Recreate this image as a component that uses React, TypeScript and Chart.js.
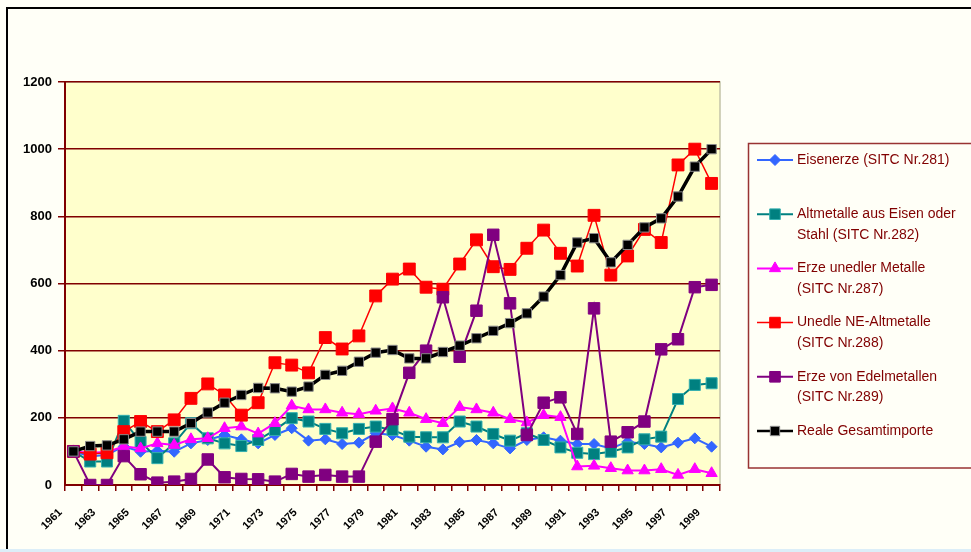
import React, { useEffect, useRef } from 'react';
import { Chart, registerables } from 'chart.js';

Chart.register(...registerables);

const years = [
  '1961', '1962', '1963', '1964', '1965', '1966', '1967', '1968', '1969', '1970',
  '1971', '1972', '1973', '1974', '1975', '1976', '1977', '1978', '1979', '1980',
  '1981', '1982', '1983', '1984', '1985', '1986', '1987', '1988', '1989', '1990',
  '1991', '1992', '1993', '1994', '1995', '1996', '1997', '1998', '1999',
];

const eisenerze = [
  100, 85, 90, 115, 99, 102, 99, 124, 134, 149,
  136, 124, 149, 169, 132, 136, 122, 126, 154, 149,
  132, 114, 106, 128, 134, 124, 109, 134, 142, 132,
  122, 122, 109, 129, 122, 112, 126, 139, 114,
];

const altmetalleEisen = [
  100, 70, 70, 191, 128, 80, 124, 184, 139, 124,
  116, 134, 164, 199, 189, 167, 154, 167, 174, 164,
  144, 142, 142, 189, 174, 152, 132, 154, 134, 112,
  96, 92, 99, 112, 136, 144, 256, 298, 303,
];

const erzeUnedler = [
  100, 96, 98, 115, 109, 124, 119, 136, 139, 169,
  174, 153, 184, 236, 225, 225, 215, 211, 221, 228,
  215, 196, 184, 232, 225, 215, 196, 186, 208, 202,
  55, 57, 50, 43, 43, 47, 30, 47, 35,
];

const unedleNE = [
  100, 92, 96, 159, 189, 159, 194, 258, 301, 268,
  208, 245, 364, 357, 334, 439, 405, 444, 563, 613,
  643, 589, 583, 658, 730, 650, 642, 705, 759, 690,
  652, 803, 625, 682, 761, 722, 953, 1000, 898,
];

const erzeEdel = [
  100, 0, 0, 86, 32, 7, 10, 18, 76, 23,
  18, 17, 10, 33, 25, 30, 25, 25, 129, 196,
  334, 400, 559, 382, 519, 745, 541, 149, 245, 261,
  152, 526, 129, 157, 189, 404, 434, 589, 596,
];

const gesamt = [
  100, 116, 118, 136, 159, 159, 159, 184, 216, 245,
  268, 289, 288, 278, 293, 328, 340, 367, 394, 402,
  377, 377, 396, 415, 437, 459, 482, 511, 561, 625,
  722, 735, 663, 715, 767, 794, 859, 948, 1000,
];

const yTicks = [0, 200, 400, 600, 800, 1000, 1200];
const yTickLabels = ['0', '200', '400', '600', '800', '1000', '1200'];

const seriesNames: string[][] = [
  ['Eisenerze (SITC Nr.281)'],
  ['Altmetalle aus Eisen oder', 'Stahl (SITC Nr.282)'],
  ['Erze unedler Metalle', '(SITC Nr.287)'],
  ['Unedle NE-Altmetalle', '(SITC Nr.288)'],
  ['Erze von Edelmetallen', '(SITC Nr.289)'],
  ['Reale Gesamtimporte'],
];

type Style = {
  line: string;
  fill: string;
  stroke: string;
  shape: 'rect' | 'rectRot' | 'triangle';
  r: number;
  lw: number;
};

const styles: Style[] = [
  { line: '#3366FF', fill: '#3366FF', stroke: '#3366FF', shape: 'rectRot', r: 5.5, lw: 2 },
  { line: '#008080', fill: '#008080', stroke: '#33AFAF', shape: 'rect', r: 7.8, lw: 2 },
  { line: '#FF00FF', fill: '#FF00FF', stroke: '#FF00FF', shape: 'triangle', r: 6.5, lw: 2 },
  { line: '#FF0000', fill: '#FF0000', stroke: '#FF0000', shape: 'rect', r: 8.4, lw: 1.5 },
  { line: '#800080', fill: '#800080', stroke: '#800080', shape: 'rect', r: 8.1, lw: 2 },
  { line: '#000000', fill: '#000000', stroke: '#8A8A8A', shape: 'rect', r: 6.6, lw: 3.5 },
];

const seriesData = [eisenerze, altmetalleEisen, erzeUnedler, unedleNE, erzeEdel, gesamt];

function drawMarker(ctx: CanvasRenderingContext2D, s: Style, x: number, y: number) {
  ctx.save();
  ctx.fillStyle = s.fill;
  ctx.strokeStyle = s.stroke;
  ctx.lineWidth = 1;
  ctx.beginPath();
  if (s.shape === 'rect') {
    const h = s.r * Math.SQRT1_2;
    ctx.rect(x - h, y - h, 2 * h, 2 * h);
  } else if (s.shape === 'rectRot') {
    ctx.moveTo(x, y - s.r);
    ctx.lineTo(x + s.r, y);
    ctx.lineTo(x, y + s.r);
    ctx.lineTo(x - s.r, y);
    ctx.closePath();
  } else {
    const r = s.r;
    ctx.moveTo(x, y - r);
    ctx.lineTo(x + r * 0.866, y + r * 0.5);
    ctx.lineTo(x - r * 0.866, y + r * 0.5);
    ctx.closePath();
  }
  ctx.fill();
  ctx.stroke();
  ctx.restore();
}

const bgPlugin = {
  id: 'bgPlugin',
  beforeDraw(chart: any) {
    const { ctx, chartArea: a, width, height } = chart;
    ctx.save();
    ctx.fillStyle = '#FFFFF7';
    ctx.fillRect(0, 0, width, height);
    ctx.fillStyle = '#FFFFCC';
    ctx.fillRect(a.left, a.top, a.right - a.left, a.bottom - a.top);
    ctx.strokeStyle = '#C4C4A8';
    ctx.lineWidth = 1.5;
    ctx.beginPath();
    ctx.moveTo(a.left, a.top);
    ctx.lineTo(a.right, a.top);
    ctx.lineTo(a.right, a.bottom);
    ctx.stroke();
    ctx.fillStyle = '#DCEEF8';
    ctx.fillRect(0, height - 3, width, 3);
    ctx.strokeStyle = '#000000';
    ctx.lineWidth = 2;
    ctx.beginPath();
    ctx.moveTo(7, height - 3);
    ctx.lineTo(7, 8);
    ctx.lineTo(width + 2, 8);
    ctx.stroke();
    ctx.restore();
  },
};

const legendPlugin = {
  id: 'legendPlugin',
  afterDraw(chart: any) {
    const { ctx } = chart;
    ctx.save();
    ctx.fillStyle = '#FFFFF7';
    ctx.fillRect(748.5, 143.5, 240, 324.5);
    ctx.strokeStyle = '#993333';
    ctx.lineWidth = 1.5;
    ctx.strokeRect(748.5, 143.5, 240, 324.5);
    ctx.font = '14px "Liberation Sans", Arial, sans-serif';
    ctx.textBaseline = 'middle';
    ctx.textAlign = 'left';
    seriesNames.forEach((lines, i) => {
      const s = styles[i];
      const y = 160 + i * 54.2;
      ctx.strokeStyle = s.line;
      ctx.lineWidth = Math.min(s.lw, 2.5);
      ctx.beginPath();
      ctx.moveTo(757, y);
      ctx.lineTo(793, y);
      ctx.stroke();
      drawMarker(ctx, { ...s, r: Math.min(s.r, 7.5) }, 775, y);
      ctx.fillStyle = '#800000';
      lines.forEach((t, j) => ctx.fillText(t, 797, y + j * 20.5));
    });
    ctx.restore();
  },
};

export default function App() {
  const ref = useRef<HTMLCanvasElement | null>(null);

  useEffect(() => {
    if (!ref.current) return;
    const order = [6, 5, 4, 3, 2, 1];
    const chart = new Chart(ref.current, {
      type: 'line',
      data: {
        labels: years,
        datasets: seriesData.map((d, i) => ({
          label: seriesNames[i].join(' '),
          data: d,
          borderColor: styles[i].line,
          backgroundColor: styles[i].fill,
          pointBackgroundColor: styles[i].fill,
          pointBorderColor: styles[i].stroke,
          pointBorderWidth: 1,
          pointStyle: styles[i].shape,
          pointRadius: styles[i].r,
          borderWidth: styles[i].lw,
          tension: 0,
          fill: false,
          order: order[i],
        })),
      },
      options: {
        responsive: false,
        animation: false,
        events: [],
        layout: { padding: { top: 82, right: 251, left: 0, bottom: 0 } },
        plugins: {
          legend: { display: false },
          tooltip: { enabled: false },
          title: { display: false },
        },
        scales: {
          x: {
            type: 'category',
            offset: true,
            afterFit: (scale: any) => {
              scale.height = 67;
            },
            grid: {
              offset: true,
              drawOnChartArea: false,
              drawTicks: true,
              tickLength: 6,
              color: '#800000',
              lineWidth: 1.5,
            },
            border: { display: true, color: '#800000', width: 2 },
            ticks: {
              autoSkip: false,
              minRotation: 45,
              maxRotation: 45,
              padding: 15,
              labelOffset: -13,
              color: '#000000',
              font: { family: '"Liberation Sans", Arial, sans-serif', size: 11, weight: 'bold' },
              callback: (_v: any, i: number) => (i % 2 === 0 ? years[i] : ''),
            },
          },
          y: {
            min: 0,
            max: 1200,
            afterFit: (scale: any) => {
              scale.width = 65;
            },
            afterBuildTicks: (scale: any) => {
              scale.ticks = yTicks.map((v) => ({ value: v }));
            },
            grid: {
              drawTicks: true,
              tickLength: 7,
              lineWidth: 1.5,
              color: (c: any) => (c.tick && c.tick.value === 1200 && c.type === 'tick' ? '#800000' : c.tick && (c.tick.value === 0 || c.tick.value === 1200) ? 'rgba(0,0,0,0)' : '#800000'),
            },
            border: { display: true, color: '#800000', width: 2 },
            ticks: {
              padding: 6,
              color: '#000000',
              font: { family: '"Liberation Sans", Arial, sans-serif', size: 13, weight: 'bold' },
              callback: (v: any) => {
                const i = yTicks.indexOf(Number(v));
                return i >= 0 ? yTickLabels[i] : '';
              },
            },
          },
        },
      },
      plugins: [bgPlugin, legendPlugin],
    } as any);
    return () => chart.destroy();
  }, []);

  return (
    <div style={{ position: 'fixed', left: 0, top: 0, width: 971, height: 552 }}>
      <canvas ref={ref} width={971} height={552} style={{ display: 'block', width: 971, height: 552 }} />
    </div>
  );
}
